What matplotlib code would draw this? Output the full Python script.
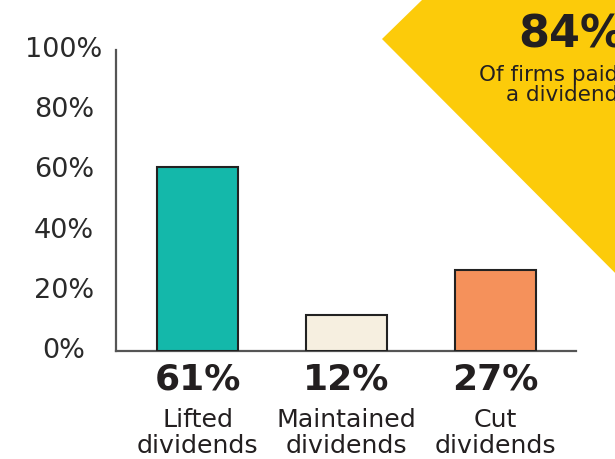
import matplotlib
matplotlib.use("Agg")
import matplotlib.pyplot as plt
import matplotlib.transforms as mtransforms
from matplotlib.patches import Polygon

categories = ["Lifted\ndividends", "Maintained\ndividends", "Cut\ndividends"]
values = [61, 12, 27]
value_labels = ["61%", "12%", "27%"]
bar_colors = ["#14B8AA", "#F6EFE0", "#F5915B"]
yticks = [0, 20, 40, 60, 80, 100]
ytick_labels = ["0%", "20%", "40%", "60%", "80%", "100%"]
callout_value = "84%"
callout_text = "Of firms paid\na dividend"

plt.rcParams['font.family'] = ['DejaVu Sans']

W, H = 615, 459
fig = plt.figure(figsize=(W / 100, H / 100), dpi=100)

# yellow diamond in the top-right corner
diamond = Polygon([(382 / W, 1 - 39 / H), (422 / W, 1 - 0 / H), (900 / W, 1 + 478 / H),
                   (660 / W, 1 - 318 / H)], closed=True, transform=fig.transFigure,
                  facecolor="#FCCB0A", edgecolor="none", zorder=0)
fig.patches.append(diamond)

ax = fig.add_axes([116 / W, 1 - 351 / H, (576 - 116) / W, (351 - 50) / H])
ax.set_facecolor("none")
x = list(range(len(values)))
ax.bar(x, values, width=0.545, color=bar_colors, edgecolor="#222222", linewidth=1.5, zorder=3)
ax.set_xlim(-0.547, 2.54)
ax.set_ylim(0, 100)

for s in ["top", "right"]:
    ax.spines[s].set_visible(False)
for s in ["left", "bottom"]:
    ax.spines[s].set_color("#555555")
    ax.spines[s].set_linewidth(1.6)

ax.set_xticks([])
ax.set_yticks(yticks)
ax.set_yticklabels(ytick_labels, fontsize=19.5, color="#2a2a2a")
ax.tick_params(axis="y", length=0, pad=37.4)
offset = mtransforms.ScaledTranslation(0, 3 / 100, fig.dpi_scale_trans)
for lab in ax.get_yticklabels():
    lab.set_horizontalalignment("center")
    lab.set_transform(lab.get_transform() + offset)

blend = mtransforms.blended_transform_factory(ax.transData, fig.transFigure)
for xi, vl, cat in zip(x, value_labels, categories):
    ax.text(xi, 1 - 380 / H, vl, transform=blend, ha="center", va="center",
            fontsize=26, fontweight="bold", color="#231f20", clip_on=False)
    ax.text(xi, 1 - 433 / H, cat, transform=blend, ha="center", va="center",
            fontsize=18.2, color="#231f20", linespacing=1.07, clip_on=False)

fig.text(625 / W, 1 - 35 / H, callout_value, ha="right", va="center",
         fontsize=32, fontweight="bold", color="#231f20")
fig.text(618 / W, 1 - 85 / H, callout_text, ha="right", va="center",
         fontsize=15.5, color="#231f20", linespacing=1.05, multialignment="right")

fig.savefig("out.png", dpi=100)
